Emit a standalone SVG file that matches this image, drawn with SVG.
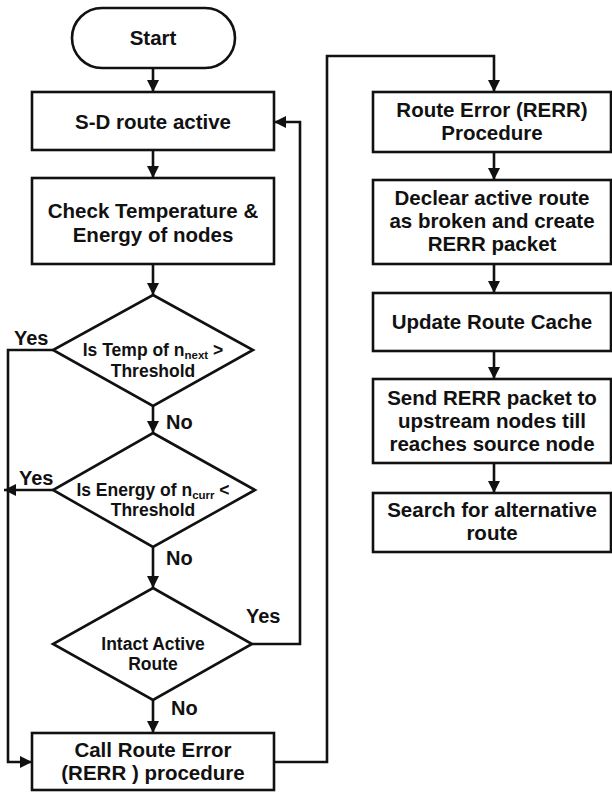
<svg xmlns="http://www.w3.org/2000/svg" width="612" height="792" viewBox="0 0 612 792">
<defs>
<marker id="ah" markerWidth="12" markerHeight="12" refX="12" refY="6" orient="auto" markerUnits="userSpaceOnUse">
<path d="M0,0 L12,6 L0,12 Z" fill="#111"/>
</marker>
<style>
.shape{fill:#fff;stroke:#111;stroke-width:2.6}
.t{font-family:"Liberation Sans",Arial,sans-serif;font-weight:bold;font-size:20.5px;fill:#111;text-anchor:middle}
.d{font-size:17.5px}
.lbl{font-family:"Liberation Sans",Arial,sans-serif;font-weight:bold;font-size:20px;fill:#111}
.c{fill:none;stroke:#111;stroke-width:2.6}
.sub{font-size:11.5px}
</style>
</defs>
<rect width="612" height="792" fill="#fff"/>
<g id="connectors">
<path class="c" d="M153,68 V92" marker-end="url(#ah)"/>
<path class="c" d="M153,150 V178" marker-end="url(#ah)"/>
<path class="c" d="M153,264 V295" marker-end="url(#ah)"/>
<path class="c" d="M153,406 V433" marker-end="url(#ah)"/>
<path class="c" d="M153,547 V588" marker-end="url(#ah)"/>
<path class="c" d="M153,700 V733" marker-end="url(#ah)"/>
<path class="c" d="M53,350 H8 V762 H32" marker-end="url(#ah)"/>
<path class="c" d="M53,490 H4" marker-end="url(#ah)"/>
<path class="c" d="M252,644 H300 V122 H274" marker-end="url(#ah)"/>
<path class="c" d="M274,762 H327 V56 H494 V92" marker-end="url(#ah)"/>
<path class="c" d="M494,152 V180" marker-end="url(#ah)"/>
<path class="c" d="M494,264 V293" marker-end="url(#ah)"/>
<path class="c" d="M494,351 V379" marker-end="url(#ah)"/>
<path class="c" d="M494,463 V493" marker-end="url(#ah)"/>
<text class="lbl" x="14" y="345">Yes</text>
<text class="lbl" x="19" y="485">Yes</text>
<text class="lbl" x="246" y="623">Yes</text>
<text class="lbl" x="166" y="429">No</text>
<text class="lbl" x="166" y="565">No</text>
<text class="lbl" x="171" y="715">No</text>
</g>
<g id="start">
<rect class="shape" x="72" y="8" width="163" height="60" rx="30" ry="30"/>
<text class="t" x="153" y="45">Start</text>
</g>
<g id="sd-route">
<rect class="shape" x="32" y="92" width="242" height="58"/>
<text class="t" x="153" y="129">S-D route active</text>
</g>
<g id="check">
<rect class="shape" x="32" y="178" width="242" height="86"/>
<text class="t" x="153" y="218">Check Temperature &amp;</text>
<text class="t" x="153" y="242">Energy of nodes</text>
</g>
<g id="temp">
<polygon class="shape" points="153,295 253,350 153,406 53,350"/>
<text class="t d" x="153" y="356">Is Temp of n<tspan class="sub" dy="3">next</tspan><tspan dy="-3"> &gt;</tspan></text>
<text class="t d" x="153" y="377">Threshold</text>
</g>
<g id="energy">
<polygon class="shape" points="153,433 255,490 153,547 53,490"/>
<text class="t d" x="153" y="496">Is Energy of n<tspan class="sub" dy="3">curr</tspan><tspan dy="-3"> &lt;</tspan></text>
<text class="t d" x="153" y="516">Threshold</text>
</g>
<g id="intact">
<polygon class="shape" points="153,588 252,644 153,700 53,644"/>
<text class="t d" x="153" y="650">Intact Active</text>
<text class="t d" x="153" y="670">Route</text>
</g>
<g id="call-rerr">
<rect class="shape" x="32" y="733" width="242" height="57"/>
<text class="t" x="153" y="757">Call Route Error</text>
<text class="t" x="153" y="780">(RERR ) procedure</text>
</g>
<g id="rerr-proc">
<rect class="shape" x="373" y="92" width="238" height="60"/>
<text class="t" x="492" y="117">Route Error (RERR)</text>
<text class="t" x="492" y="140">Procedure</text>
</g>
<g id="declear">
<rect class="shape" x="373" y="180" width="238" height="84"/>
<text class="t" x="492" y="205">Declear active route</text>
<text class="t" x="492" y="228">as broken and create</text>
<text class="t" x="492" y="251">RERR packet</text>
</g>
<g id="update">
<rect class="shape" x="373" y="293" width="238" height="58"/>
<text class="t" x="492" y="329">Update Route Cache</text>
</g>
<g id="send">
<rect class="shape" x="373" y="379" width="238" height="84"/>
<text class="t" x="492" y="405">Send RERR packet to</text>
<text class="t" x="492" y="428">upstream nodes till</text>
<text class="t" x="492" y="451">reaches source node</text>
</g>
<g id="search">
<rect class="shape" x="373" y="493" width="238" height="59"/>
<text class="t" x="492" y="517">Search for alternative</text>
<text class="t" x="492" y="540">route</text>
</g>
</svg>
